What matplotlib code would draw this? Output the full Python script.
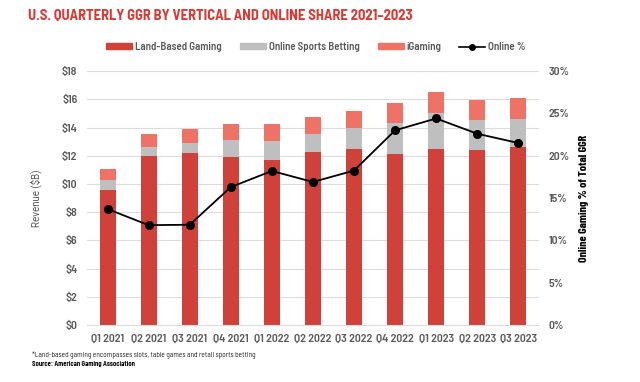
import matplotlib
matplotlib.use("Agg")
import matplotlib.pyplot as plt
import numpy as np
from matplotlib.lines import Line2D
from matplotlib.patches import Patch

plt.rcParams['font.family'] = ['Barlow Semi Condensed', 'Barlow Condensed', 'DejaVu Sans']

quarters = ["Q1 2021", "Q2 2021", "Q3 2021", "Q4 2021", "Q1 2022", "Q2 2022",
            "Q3 2022", "Q4 2022", "Q1 2023", "Q2 2023", "Q3 2023"]
land_based = [9.54, 11.95, 12.21, 11.90, 11.69, 12.26, 12.45, 12.12, 12.47, 12.38, 12.63]
online_sports = [0.74, 0.67, 0.71, 1.23, 1.35, 1.30, 1.53, 2.22, 2.56, 2.12, 1.94]
igaming = [0.77, 0.92, 0.95, 1.12, 1.23, 1.18, 1.20, 1.40, 1.47, 1.47, 1.52]
online_pct = [13.7, 11.8, 11.85, 16.3, 18.2, 16.9, 18.25, 23.0, 24.4, 22.6, 21.5]

left_ticks = [f"${v}" for v in range(0, 20, 2)]
right_ticks = [f"{v}%" for v in range(0, 35, 5)]

c_land = "#D0413A"
c_osb = "#BFBFBF"
c_ig = "#EE7266"
c_title = "#D83B35"
c_text = "#595959"

fig = plt.figure(figsize=(6.4, 3.82), dpi=100)
ax = fig.add_axes([0.136, 0.149, 0.706, 0.665])
x = np.arange(len(quarters))
w = 0.39
ax.bar(x, land_based, w, color=c_land, zorder=2)
ax.bar(x, online_sports, w, bottom=land_based, color=c_osb, zorder=2)
bot2 = np.array(land_based) + np.array(online_sports)
ax.bar(x, igaming, w, bottom=bot2, color=c_ig, zorder=2)

ax.set_xlim(-0.5, len(quarters) - 0.5)
ax.set_ylim(0, 18)
ax.set_yticks(range(0, 20, 2))
ax.set_yticklabels(left_ticks)
ax.set_xticks(x)
ax.set_xticklabels(quarters)
ax.grid(axis='y', color='#DCDCDC', linewidth=0.8, zorder=0)
for s in ['top', 'right', 'left']:
    ax.spines[s].set_visible(False)
ax.spines['bottom'].set_color('#DCDCDC')
ax.tick_params(axis='both', length=0, colors=c_text, labelsize=8.5)
ax.tick_params(axis='x', pad=6)
ax.tick_params(axis='y', pad=7)
for t in ax.get_xticklabels() + ax.get_yticklabels():
    t.set_fontweight(600)
ax.set_ylabel("Revenue ($B)", color=c_text, fontsize=7, family=['Roboto', 'DejaVu Sans'])
ax.yaxis.set_label_coords(-0.0996, 0.5)

ax2 = ax.twinx()
ax2.plot(x, online_pct, color='black', marker='o', markersize=5.5, linewidth=1.3, zorder=5)
ax2.set_ylim(0, 30)
ax2.set_yticks(range(0, 35, 5))
ax2.set_yticklabels(right_ticks)
for s in ['top', 'right', 'left', 'bottom']:
    ax2.spines[s].set_visible(False)
ax2.tick_params(axis='y', length=0, colors=c_text, labelsize=8.5, pad=7)
for t in ax2.get_yticklabels():
    t.set_fontweight(600)
ax2.set_ylabel("Online Gaming % of Total GGR", color='black', fontsize=8.6,
               fontweight='bold', family=['Barlow Condensed', 'DejaVu Sans'])
ax2.yaxis.set_label_coords(1.088, 0.5)

title = fig.text(28 / 640, 0.957, "U.S. QUARTERLY GGR BY VERTICAL AND ONLINE SHARE 2021\u20132023",
                 color=c_title, fontsize=11, fontweight='bold', va='center', ha='left',
                 family=['Barlow Semi Condensed', 'DejaVu Sans'])

handles = [Patch(color=c_land), Patch(color=c_osb), Patch(color=c_ig),
           Line2D([0], [0], color='black', marker='o', markersize=4, linewidth=1.2)]
labels = ["Land-Based Gaming", "Online Sports Betting", "iGaming", "Online %"]
leg = fig.legend(handles, labels, loc='center', bbox_to_anchor=(0.494, 0.877), ncol=4,
                 frameon=False, fontsize=7.8, handlelength=2.4, handleheight=0.37,
                 columnspacing=1.65, handletextpad=0.28)
for t in leg.get_texts():
    t.set_color(c_text)
    t.set_fontweight(600)

foot = fig.text(32 / 640, 0.071, "*Land-based gaming encompasses slots, table games and retail sports betting",
                fontsize=5.5, color='#222222', va='center')
src = fig.text(32 / 640, 0.047, "Source: American Gaming Association", fontsize=5.5,
               fontweight='bold', color='black', va='center')

# fit text widths to the reference's measured widths (pixels)
fig.canvas.draw()
r = fig.canvas.get_renderer()
for t, target in [(title, 385), (foot, 222), (src, 103)]:
    wpx = t.get_window_extent(r).width
    t.set_fontsize(t.get_fontsize() * target / wpx)

fig.savefig("out.png", dpi=100)
